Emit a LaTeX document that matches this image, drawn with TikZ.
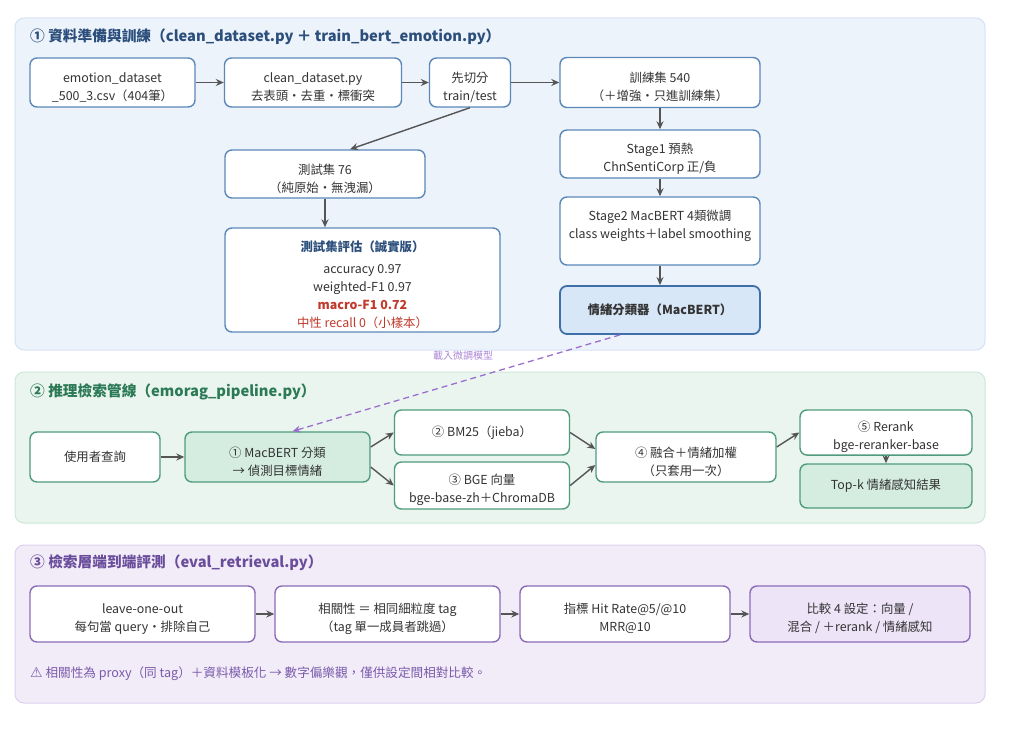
\documentclass[tikz,border=0pt]{standalone}
\usepackage{fontspec}
\setmainfont{Noto Sans CJK TC}
\newfontfamily\symfont{DejaVu Sans}
\usetikzlibrary{arrows.meta}

\definecolor{txt}{HTML}{333333}
\definecolor{arrgray}{HTML}{555555}
\definecolor{bluefill}{HTML}{EDF3FB}
\definecolor{bluerim}{HTML}{D5E2F3}
\definecolor{blueline}{HTML}{5B88BA}
\definecolor{bluedark}{HTML}{3F6FA8}
\definecolor{bluebox}{HTML}{D8E7F8}
\definecolor{bluetitle}{HTML}{2B4E7B}
\definecolor{greenfill}{HTML}{EAF5EF}
\definecolor{greenrim}{HTML}{CDE7D9}
\definecolor{greenline}{HTML}{4F9B7D}
\definecolor{greenbox}{HTML}{D5EDE1}
\definecolor{greentitle}{HTML}{2C7A55}
\definecolor{purplefill}{HTML}{F2ECF9}
\definecolor{purplerim}{HTML}{DCD0EE}
\definecolor{purpleline}{HTML}{8B6BB8}
\definecolor{purplebox}{HTML}{EDE4F8}
\definecolor{purpletitle}{HTML}{6B4E9B}
\definecolor{dashpurple}{HTML}{9B6FCF}
\definecolor{notepurple}{HTML}{7B5BAA}
\definecolor{alertred}{HTML}{C0392B}

\tikzset{
  panel/.style={rounded corners=9pt, line width=1pt},
  title/.style={anchor=west, inner sep=0pt, font=\fontsize{14.7}{18}\selectfont\bfseries},
  box/.style={draw, rounded corners=7pt, fill=white, align=center, inner sep=2pt,
    line width=1.4pt, text=txt, font=\fontsize{12.4}{18}\selectfont},
  twoline/.style={text height=38pt},
  bbox/.style={box, draw=blueline},
  gbox/.style={box, draw=greenline},
  pbox/.style={box, draw=purpleline},
  arr/.style={-{Stealth[length=8pt,width=7pt]}, line width=1.4pt, draw=arrgray},
}

\begin{document}
\begin{tikzpicture}[x=1pt,y=-1pt]
  \useasboundingbox (0,0) rectangle (1010,730);

  \draw[panel, fill=bluefill, draw=bluerim] (15,18) rectangle (985,350);
  \draw[panel, fill=greenfill, draw=greenrim] (15,372) rectangle (985,523);
  \draw[panel, fill=purplefill, draw=purplerim] (15,545) rectangle (985,703);

  \node[title, text=bluetitle] (t1) at (30,37) {① 資料準備與訓練（clean\_dataset.py ＋ train\_bert\_emotion.py）};
  \node[title, text=greentitle] (t2) at (30,392) {② 推理檢索管線（emorag\_pipeline.py）};
  \node[title, text=purpletitle] (t3) at (30,563) {③ 檢索層端到端評測（eval\_retrieval.py）};

  % stage 1
  \node[bbox, twoline, minimum width=165pt, minimum height=49pt] (ds) at (112.5,82.5) {emotion\_dataset\\\_500\_3.csv（404筆）};
  \node[bbox, twoline, minimum width=177pt, minimum height=49pt] (clean) at (313,82.5) {clean\_dataset.py\\去表頭・去重・標衝突};
  \node[bbox, twoline, minimum width=81pt, minimum height=49pt] (split) at (470,82.5) {先切分\\train/test};
  \node[bbox, twoline, minimum width=200pt, minimum height=50pt] (train) at (660,82.5) {訓練集 540\\（＋增強・只進訓練集）};
  \node[bbox, twoline, minimum width=200pt, minimum height=48pt] (stage1) at (660,154) {Stage1 預熱\\ChnSentiCorp 正/負};
  \node[bbox, text height=18pt, minimum width=200pt, minimum height=68pt] (stage2) at (660,231) {Stage2 MacBERT 4類微調\\class weights＋label smoothing};
  \node[bbox, draw=bluedark, line width=1.8pt, fill=bluebox, minimum width=200pt, minimum height=48pt, font=\fontsize{12.4}{18}\selectfont\bfseries] (clf) at (660,310) {情緒分類器（MacBERT）};
  \node[bbox, twoline, minimum width=200pt, minimum height=48pt] (test) at (325,174) {測試集 76\\（純原始・無洩漏）};
  \node[bbox, text height=97pt, minimum width=275pt, minimum height=104pt] (eval) at (362.5,280) {{\bfseries\color{bluetitle}測試集評估（誠實版）}\\[4pt]accuracy 0.97\\weighted-F1 0.97\\{\bfseries\color{alertred}macro-F1 0.72}\\{\color{alertred}中性 recall 0（小樣本）}};

  \foreach \a/\b in {ds/clean, clean/split, split/train, train/stage1, stage1/stage2, stage2/clf}
    \draw[arr] (\a) -- (\b);
  \draw[arr] (split.south) -- ([xshift=25pt]test.north);
  \draw[arr] (test) -- (test |- eval.north);

  % stage 2
  \node[gbox, minimum width=130pt, minimum height=50pt] (query) at (95,457) {使用者查詢};
  \node[gbox, twoline, fill=greenbox, minimum width=185pt, minimum height=50pt] (mac) at (277.5,457) {① MacBERT 分類\\→ 偵測目標情緒};
  \node[gbox, minimum width=175pt, minimum height=45pt] (bm25) at (482,432.5) {② BM25（jieba）};
  \node[gbox, twoline, minimum width=175pt, minimum height=47pt] (bge) at (482,485.5) {③ BGE 向量\\bge-base-zh＋ChromaDB};
  \node[gbox, twoline, minimum width=180pt, minimum height=50pt] (fuse) at (686,457) {④ 融合＋情緒加權\\（只套用一次）};
  \node[gbox, twoline, minimum width=172pt, minimum height=45pt] (rerank) at (886,432.5) {⑤ Rerank\\bge-reranker-base};
  \node[gbox, fill=greenbox, minimum width=172pt, minimum height=44pt] (topk) at (886,486) {Top-k 情緒感知結果};

  \draw[arr] (query) -- (mac);
  \draw[arr] ([yshift=10pt]mac.east) -- (bm25.west);
  \draw[arr] ([yshift=-10pt]mac.east) -- (bge.west);
  \draw[arr] (bm25.east) -- ([yshift=8pt]fuse.west);
  \draw[arr] (bge.east) -- ([yshift=-8pt]fuse.west);
  \draw[arr] ([yshift=10pt]fuse.east) -- (rerank.west);
  \draw[arr] (rerank) -- (topk);

  \draw[dashpurple, dashed, line width=1.3pt, dash pattern=on 6pt off 4pt, -{Stealth[length=8pt,width=7pt]}]
    ([xshift=-40pt]clf.south) -- ([xshift=15pt]mac.north);
  \node[text=dashpurple!85, font=\fontsize{10}{12}\selectfont, inner sep=1pt] (load) at (463,356) {載入微調模型};

  % stage 3
  \node[pbox, twoline, minimum width=225pt, minimum height=56pt] (loo) at (142.5,614) {leave-one-out\\每句當 query・排除自己};
  \node[pbox, twoline, minimum width=225pt, minimum height=56pt] (rel) at (387.5,614) {相關性 ＝ 相同細粒度 tag\\（tag 單一成員者跳過）};
  \node[pbox, twoline, minimum width=210pt, minimum height=56pt] (metric) at (625,614) {指標 Hit Rate@5/@10\\MRR@10};
  \node[pbox, twoline, fill=purplebox, minimum width=220pt, minimum height=56pt] (cmp) at (860,614) {比較 4 設定：向量 /\\混合 / ＋rerank / 情緒感知};

  \foreach \a/\b in {loo/rel, rel/metric, metric/cmp}
    \draw[arr] (\a) -- (\b);

  \node[anchor=west, inner sep=0pt, text=notepurple, font=\fontsize{12.6}{15}\selectfont] (note) at (30,674) {{\symfont\fontsize{14}{15}\selectfont ⚠} 相關性為 proxy（同 tag）＋資料模板化 → 數字偏樂觀，僅供設定間相對比較。};
\end{tikzpicture}
\end{document}
